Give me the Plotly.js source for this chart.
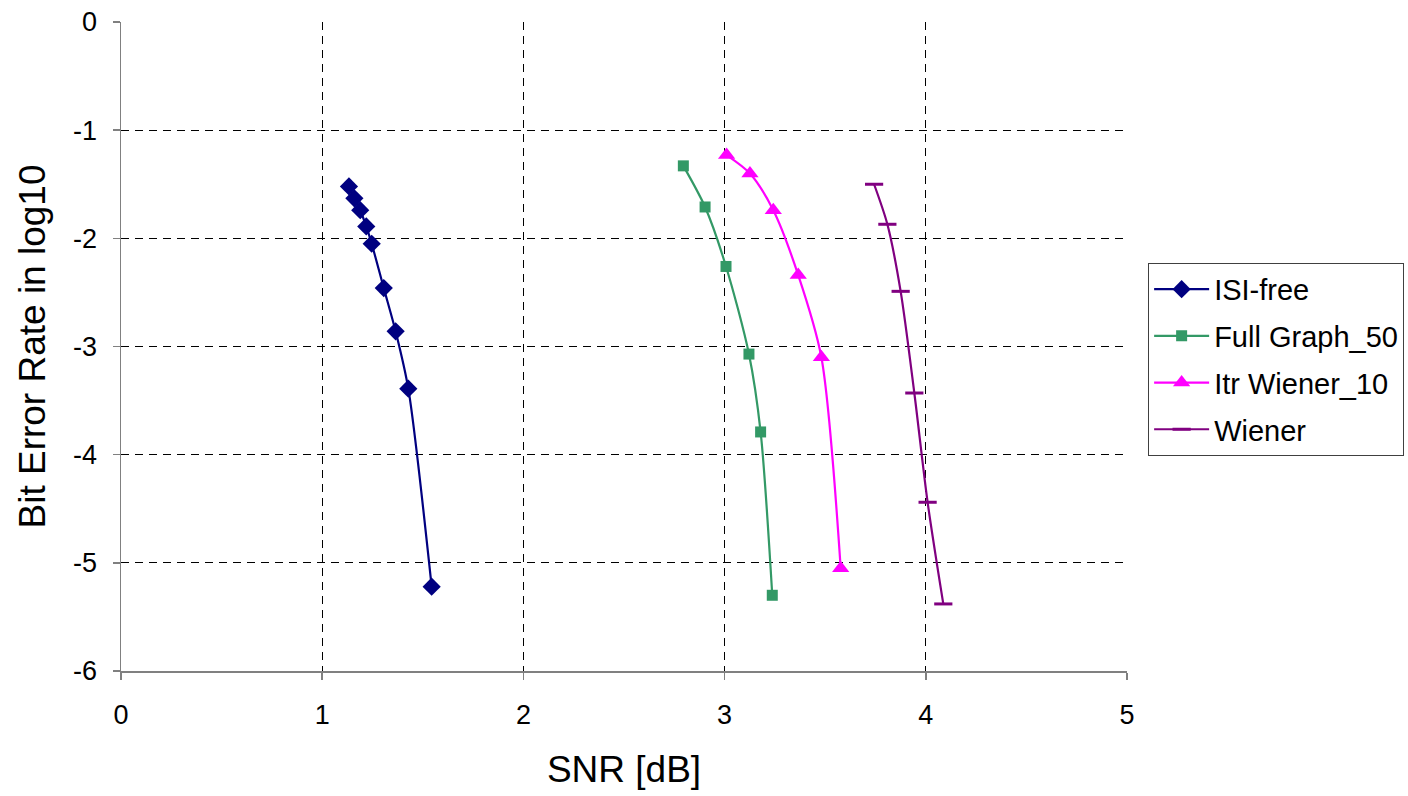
<!DOCTYPE html>
<html>
<head>
<meta charset="utf-8">
<script src="https://cdn.plot.ly/plotly-3.0.1.min.js"></script>
<style>html,body{margin:0;padding:0;background:#fff;}#chart{width:1408px;height:796px;}</style>
</head>
<body>
<div id="chart"></div>
<script>
// Data
const isiFreeX = [1.133, 1.160, 1.189, 1.219, 1.246, 1.306, 1.365, 1.428, 1.544];
const isiFreeY = [-1.52, -1.63, -1.74, -1.89, -2.05, -2.46, -2.86, -3.39, -5.22];
const fullGraphX = [2.795, 2.903, 3.007, 3.121, 3.179, 3.237];
const fullGraphY = [-1.33, -1.71, -2.26, -3.07, -3.79, -5.30];
const itrWienerX = [3.010, 3.126, 3.242, 3.366, 3.481, 3.577];
const itrWienerY = [-1.23, -1.40, -1.74, -2.34, -3.10, -5.05];
const wienerX = [3.743, 3.809, 3.875, 3.943, 4.009, 4.087];
const wienerY = [-1.50, -1.87, -2.49, -3.43, -4.44, -5.38];
const seriesNames = ['ISI-free', 'Full Graph_50', 'Itr Wiener_10', 'Wiener'];
const xTicks = [0, 1, 2, 3, 4, 5];
const yTicks = [0, -1, -2, -3, -4, -5, -6];

const FONT = 'Liberation Sans, Arial, sans-serif';
function mk(name, x, y, color, symbol, size, extra) {
  const m = Object.assign({symbol: symbol, size: size, color: color}, extra || {});
  return {
    type: 'scatter', mode: 'lines+markers', name: name, x: x, y: y,
    legendgroup: name,
    line: {color: color, width: 2.2, shape: 'spline', smoothing: 0.8},
    marker: m
  };
}
const traces = [
  mk(seriesNames[0], isiFreeX, isiFreeY, '#000080', 'diamond', 14),
  mk(seriesNames[1], fullGraphX, fullGraphY, '#339966', 'square', 11),
  mk(seriesNames[2], itrWienerX, itrWienerY, '#FF00FF', 'triangle-up', 15),
  mk(seriesNames[3], wienerX, wienerY, '#800080', 'line-ew', 13, {line: {color: '#800080', width: 3}})
];

const layout = {
  width: 1408, height: 796,
  margin: {l: 121, r: 281, t: 22, b: 125, pad: 0, autoexpand: false},
  paper_bgcolor: '#fff', plot_bgcolor: '#fff',
  font: {family: FONT, color: '#000', size: 27},
  showlegend: true,
  legend: {
    x: 1.021, xanchor: 'left', y: 0.629, yanchor: 'top',
    bordercolor: '#404040', borderwidth: 1, bgcolor: '#fff',
    font: {family: FONT, size: 29, color: '#000'},
    traceorder: 'grouped', tracegroupgap: 6, itemwidth: 55
  },
  xaxis: {
    range: [0, 5], tickvals: xTicks, ticktext: xTicks.map(String),
    showline: true, linecolor: '#808080', linewidth: 1.5,
    ticks: 'outside', ticklen: 7, tickcolor: '#808080', tickwidth: 1.5,
    ticklabelstandoff: 12,
    showgrid: true, gridcolor: '#000', gridwidth: 1, griddash: '8px,6px',
    zeroline: false, tickfont: {size: 27, family: FONT},
    title: {text: 'SNR [dB]', font: {size: 37, family: FONT}, standoff: 27}
  },
  yaxis: {
    range: [-6, 0], tickvals: yTicks, ticktext: yTicks.map(String),
    showline: true, linecolor: '#808080', linewidth: 1.5,
    ticks: 'outside', ticklen: 7, tickcolor: '#808080', tickwidth: 1.5,
    ticklabelstandoff: 10,
    showgrid: true, gridcolor: '#000', gridwidth: 1, griddash: '8px,6px',
    zeroline: false, tickfont: {size: 27, family: FONT},
    title: {text: 'Bit Error Rate in log10', font: {size: 37, family: FONT}, standoff: 16}
  }
};
Plotly.newPlot('chart', traces, layout, {displayModeBar: false, staticPlot: true});
</script>
</body>
</html>
